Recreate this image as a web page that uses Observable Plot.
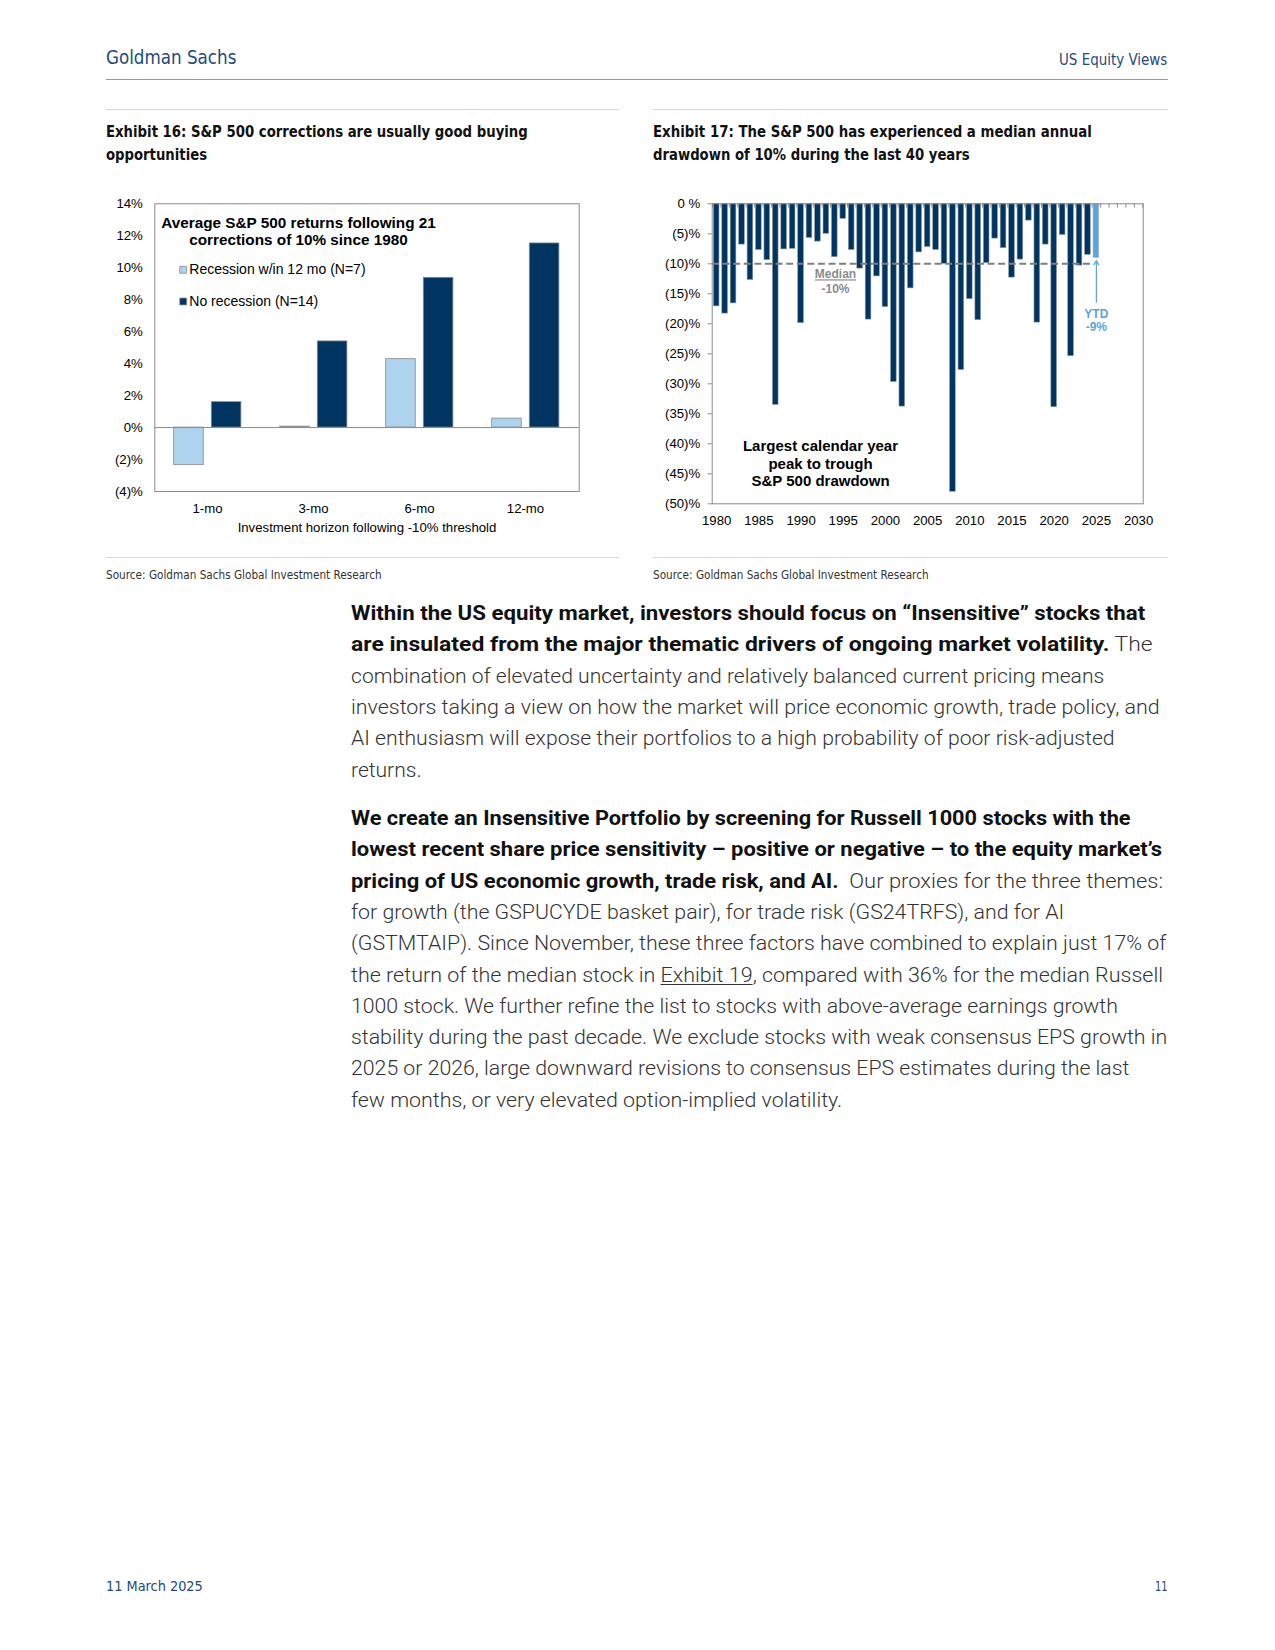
<!DOCTYPE html>
<html>
<head>
<meta charset="utf-8">
<script src="https://cdn.jsdelivr.net/npm/d3@7"></script>
<script src="https://cdn.jsdelivr.net/npm/@observablehq/plot@0.6"></script>
<style>
  html, body { margin: 0; padding: 0; background: #fff; }
  body { width: 1275px; height: 1650px; position: relative; overflow: hidden; font-family: "Liberation Sans", Arial, sans-serif; }
  .abs { position: absolute; white-space: nowrap; }
  .fit { display: inline-block; transform-origin: 0 50%; }
  .cond { font-family: "Liberation Sans Narrow", "DejaVu Sans Condensed", "Roboto", sans-serif; }
  .body { font-family: "Roboto", "Liberation Sans", sans-serif; font-weight: 300; color: #333; }
  .body b { font-weight: 700; color: #111; }
  .body u { text-decoration: underline; text-underline-offset: 2px; }
  .hr { position: absolute; height: 0; }
  .chart { position: absolute; }
  .chart svg { overflow: visible; }
</style>
</head>
<body>
<div id="c16" class="chart" style="left:100px;top:180px"></div>
<div id="c17" class="chart" style="left:650px;top:180px"></div>
<script>
// ===================== Exhibit 16 data =====================
const horizons = ["1-mo", "3-mo", "6-mo", "12-mo"];
const recessionReturns = [-2.35, 0.06, 4.28, 0.56];
const noRecessionReturns = [1.59, 5.39, 9.37, 11.52];
const series16 = ["Recession w/in 12 mo (N=7)", "No recession (N=14)"];
const yTicks16 = [-4, -2, 0, 2, 4, 6, 8, 10, 12, 14];
const title16 = "Average S&P 500 returns following 21\ncorrections of 10% since 1980";
const xTitle16 = "Investment horizon following -10% threshold";

// ===================== Exhibit 17 data =====================
const years17 = [1980, 1981, 1982, 1983, 1984, 1985, 1986, 1987, 1988, 1989,
                 1990, 1991, 1992, 1993, 1994, 1995, 1996, 1997, 1998, 1999,
                 2000, 2001, 2002, 2003, 2004, 2005, 2006, 2007, 2008, 2009,
                 2010, 2011, 2012, 2013, 2014, 2015, 2016, 2017, 2018, 2019,
                 2020, 2021, 2022, 2023, 2024, 2025];
const drawdowns = [-17.1, -18.3, -16.6, -6.8, -12.7, -7.7, -9.4, -33.5, -7.6, -7.5,
                   -19.9, -5.7, -6.3, -5.0, -8.9, -2.5, -7.7, -10.8, -19.3, -12.1,
                   -17.2, -29.7, -33.8, -14.1, -8.1, -7.2, -7.7, -10.0, -48.0, -27.7,
                   -15.9, -19.4, -9.9, -5.8, -7.4, -12.3, -9.3, -2.8, -19.8, -6.8,
                   -33.9, -5.2, -25.4, -10.3, -8.5, -9.0];
const ytdYear = 2025;
const medianDrawdown = -10;
const yTicks17 = [0, -5, -10, -15, -20, -25, -30, -35, -40, -45, -50];
const xTicks17 = [1980, 1985, 1990, 1995, 2000, 2005, 2010, 2015, 2020, 2025, 2030];
const medianLabel = ["Median", "-10%"];
const ytdLabel = ["YTD", "-9%"];
const note17 = "Largest calendar year\npeak to trough\nS&P 500 drawdown";
const ytdArrowTail = -16.4;

// ===================== colours =====================
const NAVY = "#013561";
const LIGHT = "#aed3ef";
const YTD = "#5ba5dd";
const GRID = "#8a8a8a";

const pct16 = v => v < 0 ? `(${-v})%` : `${v}%`;
const pct17 = v => v === 0 ? "0 %" : `(${-v})%`;
const baseStyle = { fontFamily: "'Liberation Sans', Arial, sans-serif", fontSize: "13.2px", color: "#000", background: "transparent", overflow: "visible" };

// ===================== Exhibit 16 chart =====================
const rec16 = horizons.map((h, i) => ({ h, v: recessionReturns[i], s: series16[0] }));
const nor16 = horizons.map((h, i) => ({ h, v: noRecessionReturns[i], s: series16[1] }));

const chart16 = Plot.plot({
  width: 500, height: 370,
  marginLeft: 54.3, marginRight: 21.3, marginTop: 23.3, marginBottom: 59,
  style: baseStyle,
  x: { domain: horizons, padding: 0, label: null },
  y: { domain: [-4, 14], label: null },
  marks: [
    Plot.barY(rec16, { x: "h", y: "v", fill: LIGHT, stroke: GRID, strokeWidth: 0.8, insetLeft: 19.7, insetRight: 56.75 }),
    Plot.barY(nor16, { x: "h", y: "v", fill: NAVY, stroke: GRID, strokeWidth: 0.8, insetLeft: 57.3, insetRight: 19.1 }),
    Plot.ruleY([0], { stroke: GRID, strokeWidth: 1 }),
    Plot.frame({ stroke: GRID, strokeWidth: 1 }),
    Plot.axisY({ ticks: yTicks16, tickFormat: pct16, tickSize: 0, tickPadding: 12, label: null }),
    Plot.axisX({ tickSize: 0, tickPadding: 12, label: null }),
    Plot.text([xTitle16], { frameAnchor: "bottom", dy: 36.3, lineAnchor: "middle", fontSize: 13.2 }),
    Plot.text([title16], { frameAnchor: "top-left", dx: 143.7, dy: 27.6, textAnchor: "middle", lineAnchor: "middle", lineHeight: 1.1, fontWeight: "bold", fontSize: 15.3 }),
    Plot.dot([series16[0]], { frameAnchor: "top-left", dx: 28.4, dy: 66, symbol: "square", r: 3.9, fill: LIGHT, stroke: GRID, strokeWidth: 0.8 }),
    Plot.dot([series16[1]], { frameAnchor: "top-left", dx: 28.4, dy: 97.7, symbol: "square", r: 3.9, fill: NAVY, stroke: GRID, strokeWidth: 0.8 }),
    Plot.text([series16[0]], { frameAnchor: "top-left", dx: 34.5, dy: 66, textAnchor: "start", lineAnchor: "middle", fontSize: 14 }),
    Plot.text([series16[1]], { frameAnchor: "top-left", dx: 34.5, dy: 97.7, textAnchor: "start", lineAnchor: "middle", fontSize: 14 })
  ]
});
document.getElementById("c16").appendChild(chart16);

// ===================== Exhibit 17 chart =====================
const rows17 = years17.map((year, i) => ({ year, v: drawdowns[i] }));
const past17 = rows17.filter(d => d.year !== ytdYear);
const ytd17 = rows17.filter(d => d.year === ytdYear);
const half = 0.335;
const x0 = years17[0] - 0.5, x1 = xTicks17[xTicks17.length - 1] + 0.5;
const boundaries = d3.range(x0, x1 + 0.01, 1);

const chart17 = Plot.plot({
  width: 510, height: 360,
  marginLeft: 61.7, marginRight: 17.3, marginTop: 23.3, marginBottom: 36.7,
  style: baseStyle,
  x: { domain: [x0 - 0.03, x1 + 0.05], label: null },
  y: { domain: [-50, 0], label: null },
  marks: [
    Plot.ruleX(boundaries, { y1: 0, y2: -0.7, stroke: GRID, strokeWidth: 1 }),
    Plot.rectY(past17, { x1: d => d.year - half, x2: d => d.year + half, y1: 0, y2: "v", fill: NAVY, stroke: "#8f9aa6", strokeWidth: 0.6 }),
    Plot.rectY(ytd17, { x1: d => d.year - half, x2: d => d.year + half, y1: 0, y2: "v", fill: YTD, stroke: "#9fb8cc", strokeWidth: 0.6 }),
    Plot.ruleY([medianDrawdown], { x1: x0, x2: ytdYear - 0.3, stroke: "#7f7f7f", strokeWidth: 2, strokeDasharray: "7,3.6" }),
    Plot.frame({ stroke: GRID, strokeWidth: 1 }),
    Plot.axisY({ ticks: yTicks17, tickFormat: pct17, tickSize: 4, tickPadding: 8, stroke: GRID, label: null }),
    Plot.axisX({ ticks: xTicks17, tickFormat: d => String(d), tickSize: 0, tickPadding: 12, label: null }),
    Plot.text([medianLabel[0]], { y: [medianDrawdown], frameAnchor: "left", dx: 123.3, dy: 10.7, textAnchor: "middle", lineAnchor: "middle", fill: "#8c8c8c", fontWeight: "bold", fontSize: 12 }),
    Plot.text([medianLabel[1]], { y: [medianDrawdown], frameAnchor: "left", dx: 123.3, dy: 25.7, textAnchor: "middle", lineAnchor: "middle", fill: "#8c8c8c", fontWeight: "bold", fontSize: 12 }),
    Plot.arrow(ytd17, { x1: "year", x2: "year", y1: () => ytdArrowTail, y2: d => d.v - 0.45, stroke: YTD, strokeWidth: 1.2, headLength: 6 }),
    Plot.text(ytd17, { x: "year", y: "v", text: () => ytdLabel[0], dy: 56, fill: YTD, fontWeight: "bold", fontSize: 12 }),
    Plot.text(ytd17, { x: "year", y: "v", text: () => ytdLabel[1], dy: 69.7, fill: YTD, fontWeight: "bold", fontSize: 12 }),
    Plot.text([note17], { frameAnchor: "bottom-left", dx: 108.3, dy: -40.6, textAnchor: "middle", lineAnchor: "middle", lineHeight: 1.17, fontWeight: "bold", fontSize: 15 })
  ]
});
d3.select(chart17).selectAll("text").filter(function () { return this.textContent === medianLabel[0]; })
  .attr("text-decoration", "underline");
document.getElementById("c17").appendChild(chart17);

// ===================== page text =====================
function place(html, { x, cy, size, cls = "", color, weight, w, right }) {
  const d = document.createElement("div");
  d.className = "abs " + cls;
  d.style.fontSize = size + "px";
  d.style.lineHeight = size + "px";
  d.style.top = (cy - size / 2) + "px";
  d.style.left = "0px";
  const s = document.createElement("span");
  s.className = "fit";
  s.innerHTML = html;
  if (color) s.style.color = color;
  if (weight) s.style.fontWeight = weight;
  d.appendChild(s);
  document.body.appendChild(d);
  const nat = s.getBoundingClientRect().width;
  const k = w ? w / nat : 1;
  s.style.transform = `scaleX(${k})`;
  d.style.left = (right != null ? right - nat * k : x) + "px";
}
function hr(x, xr, y, color) {
  const d = document.createElement("div");
  d.className = "hr";
  d.style.left = x + "px"; d.style.top = y + "px"; d.style.width = (xr - x) + "px";
  d.style.borderTop = "1px solid " + color;
  document.body.appendChild(d);
}
const NAVYTXT = "#1d4b7b";
place("Goldman Sachs", { x: 106.3, cy: 56.8, size: 20, cls: "cond", color: NAVYTXT, w: 130.4 });
place("US Equity Views", { right: 1167.7, cy: 60, size: 15, cls: "cond", color: NAVYTXT, w: 108.3 });
hr(106, 1168, 78.5, "#9a9a9a");

hr(106.3, 618.6, 109, "#d2d2d2");
hr(653.3, 1167.7, 109, "#d2d2d2");
place("Exhibit 16: S&amp;P 500 corrections are usually good buying", { x: 106.3, cy: 132.3, size: 16.5, cls: "cond", color: "#111", weight: 700, w: 421.8 });
place("opportunities", { x: 106.3, cy: 155.4, size: 16.5, cls: "cond", color: "#111", weight: 700, w: 101 });
place("Exhibit 17: The S&amp;P 500 has experienced a median annual", { x: 653.3, cy: 132.3, size: 16.5, cls: "cond", color: "#111", weight: 700, w: 438.7 });
place("drawdown of 10% during the last 40 years", { x: 653.3, cy: 155.4, size: 16.5, cls: "cond", color: "#111", weight: 700, w: 316.7 });

hr(106.3, 618.6, 557.2, "#d8d8d8");
hr(653.3, 1167.7, 557.2, "#d8d8d8");
place("Source: Goldman Sachs Global Investment Research", { x: 106.3, cy: 574.8, size: 12.5, cls: "cond", color: "#333", w: 275.6 });
place("Source: Goldman Sachs Global Investment Research", { x: 653.3, cy: 574.8, size: 12.5, cls: "cond", color: "#333", w: 275.6 });

const BODY_X = 351.4;
const para1 = [
  ["<b>Within the US equity market, investors should focus on “Insensitive” stocks that</b>", 1145.6],
  ["<b>are insulated from the major thematic drivers of ongoing market volatility.</b> The", 1153],
  ["combination of elevated uncertainty and relatively balanced current pricing means", 1104.6],
  ["investors taking a view on how the market will price economic growth, trade policy, and", 1160],
  ["AI enthusiasm will expose their portfolios to a high probability of poor risk-adjusted", 1115],
  ["returns.", 421.9]
];
const para2 = [
  ["<b>We create an Insensitive Portfolio by screening for Russell 1000 stocks with the</b>", 1131],
  ["<b>lowest recent share price sensitivity – positive or negative – to the equity market’s</b>", 1162.5],
  ["<b>pricing of US economic growth, trade risk, and AI.</b>&nbsp; Our proxies for the three themes:", 1163.5],
  ["for growth (the GSPUCYDE basket pair), for trade risk (GS24TRFS), and for AI", 1064.6],
  ["(GSTMTAIP). Since November, these three factors have combined to explain just 17% of", 1166.7],
  ["the return of the median stock in <u>Exhibit 19</u>, compared with 36% for the median Russell", 1163.5],
  ["1000 stock. We further refine the list to stocks with above-average earnings growth", 1118.3],
  ["stability during the past decade. We exclude stocks with weak consensus EPS growth in", 1167.7],
  ["2025 or 2026, large downward revisions to consensus EPS estimates during the last", 1129.8],
  ["few months, or very elevated option-implied volatility.", 842.6]
];
para1.forEach(([html, r], i) => place(html, { x: BODY_X, cy: 613.6 + i * 31.4, size: 19.5, cls: "body", w: r - BODY_X }));
para2.forEach(([html, r], i) => place(html, { x: BODY_X, cy: 818.8 + i * 31.3, size: 19.5, cls: "body", w: r - BODY_X }));

place("11 March 2025", { x: 106.3, cy: 1585.8, size: 14.5, cls: "cond", color: NAVYTXT, w: 96.8 });
place("11", { right: 1167.7, cy: 1585.8, size: 14.5, cls: "cond", color: NAVYTXT, w: 12.5 });
</script>
</body>
</html>
